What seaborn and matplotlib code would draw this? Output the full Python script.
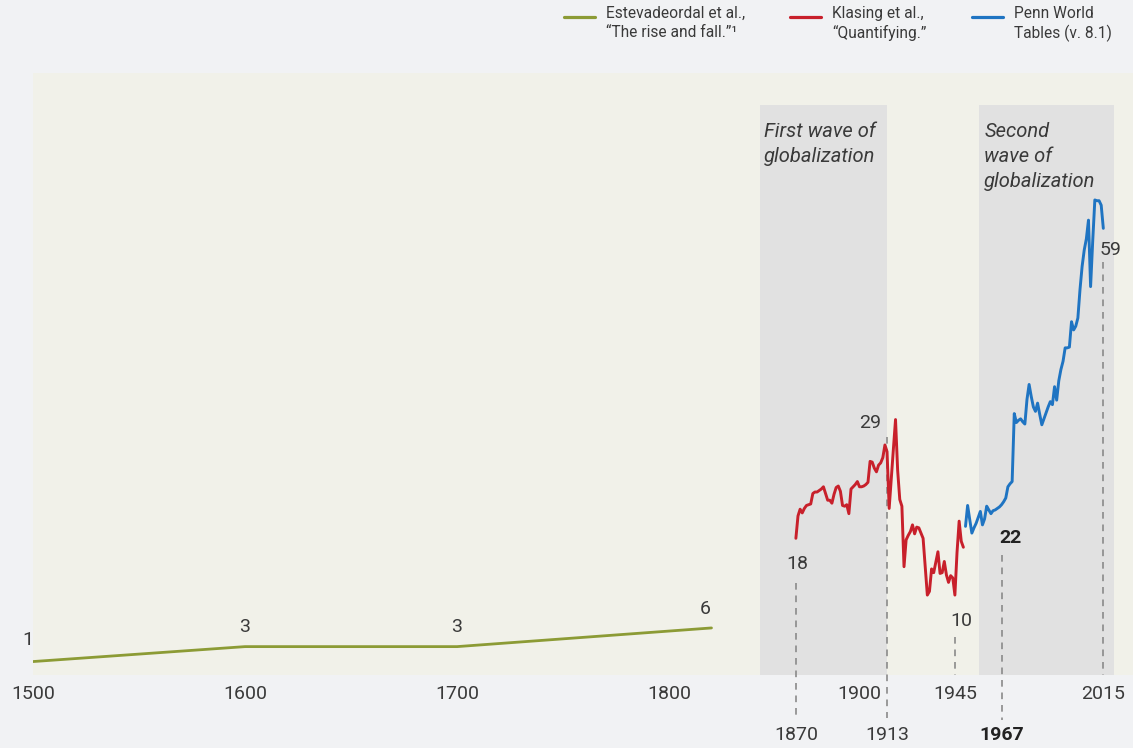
import numpy as np
import pandas as pd
import matplotlib
matplotlib.use("Agg")
import matplotlib.pyplot as plt
import matplotlib.transforms as mtransforms
from matplotlib.lines import Line2D
import seaborn as sns

# --- data (trade openness, % of GDP) ---
green_years = [1500, 1600, 1700, 1820]
green_vals = [0.9, 2.9, 2.9, 5.4]

red_years = list(range(1870, 1950))
red_vals = [17.4, 20.4, 21.3, 20.8, 21.4, 21.8, 21.9, 22.0, 23.4, 23.6,
            23.6, 23.8, 24.0, 24.3, 23.4, 22.5, 22.5, 22.1, 23.3, 24.2,
            24.4, 23.7, 21.8, 21.7, 21.9, 20.7, 24.0, 24.3, 24.6, 25.0,
            24.3, 24.3, 24.4, 24.6, 24.9, 27.7, 27.6, 26.8, 26.3, 27.2,
            27.5, 28.2, 29.9, 29.0, 21.4, 25.4, 29.4, 33.3, 26.5, 22.6,
            21.7, 13.6, 17.2, 17.8, 18.3, 19.2, 18.0, 18.9, 18.8, 18.1,
            17.4, 13.6, 9.8, 10.3, 13.3, 12.8, 14.2, 15.6, 12.7, 12.8,
            14.3, 12.5, 11.5, 12.4, 12.1, 9.8, 15.5, 19.7, 17.0, 16.2]

blue_years = list(range(1950, 2016))
blue_vals = [19.0, 21.8, 19.9, 18.1, 18.8, 19.4, 20.2, 21.0, 19.2, 20.0,
             21.7, 21.2, 20.7, 21.1, 21.2, 21.4, 21.6, 21.9, 22.3, 22.8,
             24.3, 24.7, 25.0, 34.1, 32.9, 33.2, 33.4, 33.0, 32.7, 36.0,
             38.0, 36.4, 35.0, 34.4, 35.5, 34.0, 32.6, 33.4, 34.2, 35.0,
             35.7, 35.3, 37.7, 35.9, 38.5, 40.0, 41.1, 42.9, 42.9, 43.0,
             46.4, 45.3, 45.8, 46.9, 50.7, 53.8, 56.0, 57.5, 60.0, 51.1,
             57.2, 62.7, 62.6, 62.6, 62.0, 58.9]

series_names = ['Estevadeordal et al.,\n\u201cThe rise and fall.\u201d\u00b9',
                'Klasing et al.,\n\u201cQuantifying.\u201d',
                'Penn World\nTables (v. 8.1)']
series_colors = ['#8c9b35', '#c8202b', '#1f74c2']

first_row_ticks = [1500, 1600, 1700, 1800, 1900, 1945, 2015]
second_row_ticks = [1870, 1913, 1967]

label_years = [1500, 1600, 1700, 1820, 1870, 1913, 1945, 1967, 2015]
label_texts = ['1', '3', '3', '6', '18', '29', '10', '22', '59']

waves = [(1849, 1913, 'First wave of\nglobalization'),
         (1956.5, 2020, 'Second\nwave of\nglobalization')]

# --- broken time axis: 1820-1870 is squeezed ---
ANCHOR_YEARS = [1000, 1820, 1870, 2200]
ANCHOR_POS = [1000, 1820, 1859.8, 2189.8]


def fwd(x):
    return np.interp(x, ANCHOR_YEARS, ANCHOR_POS)


def inv(x):
    return np.interp(x, ANCHOR_POS, ANCHOR_YEARS)


sns.set_theme(style='white')
plt.rcParams['font.family'] = ['Roboto', 'DejaVu Sans']

FIG_BG = '#f1f2f4'
AX_BG = '#f1f1e9'
BAND = '#e1e1e1'
TXT = '#3a3a3a'
YLO, YHI = -0.9, 79.7
BAND_TOP = 75.4

fig = plt.figure(figsize=(11.33, 7.48), dpi=100, facecolor=FIG_BG)
ax = fig.add_axes([33 / 1133, 73 / 748, 1100 / 1133, 602 / 748])
ax.set_facecolor(AX_BG)
ax.set_xscale('function', functions=(fwd, inv))
ax.set_xlim(1500, 2029)
ax.set_ylim(YLO, YHI)

for x0, x1, name in waves:
    ax.axvspan(x0, x1, ymax=(BAND_TOP - YLO) / (YHI - YLO), color=BAND, lw=0, zorder=0)
    ax.text(x0 + 2.3, 73.2, name, fontsize=14.5, style='italic',
            color=TXT, va='top', ha='left', linespacing=1.4)

frames = [pd.DataFrame({'year': green_years, 'value': green_vals}),
          pd.DataFrame({'year': red_years, 'value': red_vals}),
          pd.DataFrame({'year': blue_years, 'value': blue_vals})]
for df, col, lw in zip(frames, series_colors, [2.0, 2.1, 2.1]):
    sns.lineplot(data=df, x='year', y='value', color=col, lw=lw, ax=ax, zorder=3)

# value call-outs
lookup = {}
for df in frames:
    lookup.update(dict(zip(df['year'], df['value'])))
offsets = [(-5, 22), (0, 20), (0, 20), (-6, 19), (1, -26), (-17, 29), (6, -26), (9, -33), (7, -22)]
for yr, txt, (dx, dy) in zip(label_years, label_texts, offsets):
    bold = yr == 1967
    ax.annotate(txt, (yr, lookup[yr]), xytext=(dx * 0.72, dy * 0.72), textcoords='offset points',
                ha='center', va='center', fontsize=14, color='#222222' if bold else TXT,
                fontweight='bold' if bold else 'normal')

# dashed guides
guides = [(1870, 11.4, -6.6), (1913, 31.0, -6.6), (1945, 4.2, YLO),
          (1967, 15.2, -6.9), (2015, 54.4, YLO)]
for yr, top, bot in guides:
    ax.plot([yr, yr], [top, bot], ls=(0, (4, 3.5)), lw=1.2, color='#8a8a8a',
            clip_on=False, zorder=2)

for sp in ax.spines.values():
    sp.set_visible(False)
ax.set_xlabel('')
ax.set_ylabel('')
ax.set_yticks([])
ax.set_xticks(first_row_ticks)
ax.set_xticklabels([str(t) for t in first_row_ticks])
ax.tick_params(axis='x', direction='in', length=6, width=1.2, color='#8a8a8a',
               labelsize=14, labelcolor=TXT, pad=7)
for t in ax.xaxis.get_major_ticks():
    if t.get_loc() > 1900:
        t.tick1line.set_visible(False)

trans = mtransforms.blended_transform_factory(ax.transData, ax.transAxes)
for yr in second_row_ticks:
    bold = yr == 1967
    ax.text(yr, -0.1, str(yr), transform=trans, ha='center', va='center', fontsize=14,
            color='#222222' if bold else TXT, fontweight='bold' if bold else 'normal')

# legend drawn as three columns across the top
W, H = 1133, 748
legend_x = [564, 790, 972]
for name, col, lx in zip(series_names, series_colors, legend_x):
    fig.add_artist(Line2D([lx / W, (lx + 31) / W], [1 - 16.5 / H, 1 - 16.5 / H],
                          color=col, lw=2.3, transform=fig.transFigure))
    fig.text((lx + 42) / W, 1 - 6 / H, name, fontsize=11.2, color=TXT,
             va='top', ha='left', linespacing=1.3)

fig.savefig('out.png', dpi=100, facecolor=FIG_BG)
